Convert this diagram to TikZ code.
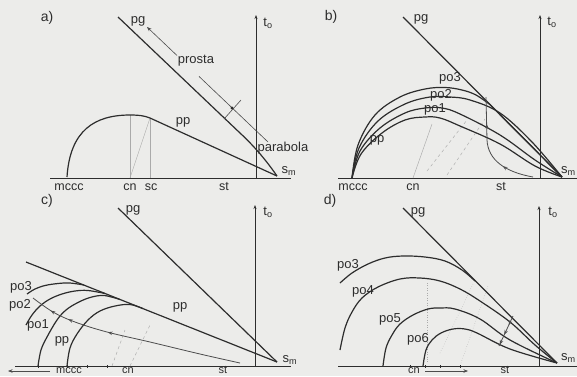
\documentclass[tikz,border=0pt]{standalone}
\usepackage{fontspec}
\setmainfont{Liberation Sans}
\usetikzlibrary{arrows.meta,decorations.markings}
\definecolor{bg}{RGB}{236,236,234}
\definecolor{ink}{RGB}{45,45,45}
\definecolor{faint}{RGB}{170,170,170}
\newcommand\mysub[1]{\textsubscript{#1}}
\begin{document}
\begin{tikzpicture}[x=1pt,y=-1pt,
  >={Stealth[length=4.5pt,width=3.5pt]},
  lbl/.style={inner sep=0.5pt,text=ink,font=\fontsize{13}{14}\selectfont},
  blbl/.style={lbl,anchor=base,font=\fontsize{12.5}{13}\selectfont},
  clbl/.style={lbl,inner sep=0pt,anchor=base,font=\fontsize{11}{12}\selectfont},
  plbl/.style={inner sep=0.5pt,text=ink,font=\fontsize{14}{15}\selectfont},
  axis/.style={draw=ink,line width=0.6pt},
  taxis/.style={draw=ink,line width=0.6pt,-{Stealth[length=4pt,width=3pt]}},
  curve/.style={draw=ink,line width=1.2pt,line join=round},
  thinl/.style={draw=ink!85,line width=0.6pt},
  faintl/.style={draw=faint,line width=0.45pt},
  tick/.style={draw=ink,line width=0.6pt},
  mk/.style={postaction={decorate,decoration={markings,mark=at position #1 with {\arrow{>}}}}}
]
\fill[bg] (0,0) rectangle (577,376);
\useasboundingbox (0,0) rectangle (577,376);

% ================= panel a =================
\coordinate (Sa) at (277,176);
\draw[axis] (50,178) -- (291,178);
\draw[taxis] (256,178) -- (256,15);
\draw[faintl] (130,115) -- (130,178);
\draw[faintl] (150,118) -- (150,178);
\draw[faintl] (130,178) -- (150,118);
\draw[curve] (118,17) -- (240,133) .. controls (254,146) and (266,160) .. (Sa);
\draw[thinl,<-] (147,27) -- (177,55.5);
\draw[thinl] (199,76.4) -- (268,142);
\draw[thinl] (224,119) -- (241,100);
\fill[ink] (232,108) circle (1.6);
\draw[curve] (67,177) .. controls (70,130) and (95,115) .. (130,115)
  .. controls (140,115) and (145,116) .. (150,118) -- (Sa);
\node[plbl] (la) at (47,18) {a)};
\node[lbl] (pga) at (138,21) {pg};
\node[lbl] (toa) at (268,23) {t\mysub{o}};
\node[lbl] (prosta) at (196,61) {prosta};
\node[lbl,anchor=west] (parab) at (257,148) {parabola};
\node[lbl] (ppa) at (183,122) {pp};
\node[lbl,anchor=west] (sma) at (281,171) {s\mysub{m}};
\node[blbl] (mccca) at (69,190) {mccc};
\node[blbl] (cna) at (130,190) {cn};
\node[blbl] (sca) at (151,190) {sc};
\node[blbl] (sta) at (224,190) {st};

% ================= panel b =================
\coordinate (Sb) at (562,177);
\draw[axis] (338,178) -- (577,178);
\draw[taxis] (540,178) -- (540,15);
\draw[faintl] (413,178) -- (432,124);
\draw[faintl,dashed] (427,171) -- (467,120);
\draw[faintl,dashed] (447,175) -- (485,119);
\draw[curve] (403,17) -- (Sb);
\draw[curve] plot[smooth,tension=0.6] coordinates {(352,178) (358,145) (375,115) (400,97) (425,89) (445,87.5) (462,90) (476,95) (490,104.6)} -- (Sb);
\draw[curve] plot[smooth,tension=0.6] coordinates {(352,178) (359,148) (378,121) (405,104) (430,97) (450,97) (470,100) (500,113) (532,142) (562,177)};
\draw[curve] plot[smooth,tension=0.6] coordinates {(352,178) (360,151) (380,128) (405,113) (425,108) (442,108) (460,114) (500,135) (535,160) (562,177)};
\draw[curve] plot[smooth,tension=0.6] coordinates {(352,178) (361,154) (382,133) (405,120) (425,117) (440,118) (460,126) (500,144) (535,166) (562,177)};
\draw[thinl,line width=0.8pt,mk=0.3,mk=0.75] (533,177) .. controls (505,172) and (488,160) .. (487,140) -- (486,97);
\node[plbl] (lb) at (331,17) {b)};
\node[lbl] (pgb) at (421,19) {pg};
\node[lbl] (tob) at (552,22) {t\mysub{o}};
\node[lbl] (po3b) at (450,78) {po3};
\node[lbl] (po2b) at (441,95) {po2};
\node[lbl] (po1b) at (435,109) {po1};
\node[lbl] (ppb) at (377,140) {pp};
\node[lbl,anchor=east] (smb) at (576.5,171) {s\mysub{m}};
\node[blbl] (mcccb) at (353,190) {mccc};
\node[blbl] (cnb) at (413,190) {cn};
\node[blbl] (stb) at (501,190) {st};

% ================= panel c =================
\coordinate (Sc) at (277,362);
\draw[axis] (15,366.5) -- (291,366.5);
\foreach \x in {38,67,87,107} \draw[tick] (\x,365) -- (\x,368);
\draw[taxis] (255,366.5) -- (255,205);
\draw[faintl,dashed] (112,366) -- (125,330);
\draw[faintl,dashed] (130,366) -- (150,325);
\draw[curve] (118,208) -- (Sc);
\draw[curve] (26,262) -- (Sc);
\draw[curve] plot[smooth,tension=0.6] coordinates {(27,294) (35,289) (45,285.5) (58,283.5) (70,283) (84,285)};
\draw[curve] plot[smooth,tension=0.6] coordinates {(26,325) (32,315) (40,306) (50,299) (62,294) (75,291) (88,290.5) (105,293.5)};
\draw[curve] plot[smooth,tension=0.6] coordinates {(38,366) (41,350) (47,337) (57,320) (66,310) (77,303) (90,297.5) (104,295.5) (120,299.5)};
\draw[curve] plot[smooth,tension=0.6] coordinates {(67,366) (70,348) (77,334) (88,320) (100,311) (115,306) (130,304.5) (143,308.6)};
\draw[thinl,line width=0.8pt,mk=0.62,mk=0.81,mk=0.9] plot[smooth,tension=0.6] coordinates {(240,363) (200,354) (150,342) (107,332) (75,322) (53,312) (33,298)};
\draw[thinl,->] (50,371) -- (8,371);
\node[plbl] (lc) at (47,201) {c)};
\node[lbl] (pgc) at (133,210) {pg};
\node[lbl] (toc) at (268,212) {t\mysub{o}};
\node[lbl] (po3c) at (21,287) {po3};
\node[lbl] (po2c) at (20,305) {po2};
\node[lbl] (po1c) at (38,325) {po1};
\node[lbl] (pparc) at (62,341) {pp};
\node[lbl] (ppc) at (180,307) {pp};
\node[lbl,anchor=west] (smc) at (282,360) {s\mysub{m}};
\node[clbl] (mcccc) at (69,373.2) {mccc};
\node[clbl] (cnc) at (128,373.2) {cn};
\node[clbl] (stc) at (223,373.2) {st};

% ================= panel d =================
\coordinate (Sd) at (557,363);
\draw[axis] (338,366.5) -- (577,366.5);
\foreach \x in {410,425,440,460} \draw[tick] (\x,365) -- (\x,368);
\draw[taxis] (539,366.5) -- (539,206);
\draw[faintl,dotted] (427,283) -- (427,363);
\draw[faintl,dotted] (440,353) -- (473,284);
\draw[faintl,dotted] (461,363) -- (488,286);
\draw[curve] (403,208) -- (Sd);
\draw[curve] plot[smooth,tension=0.6] coordinates {(340,283) (352,273) (368,264) (385,258) (403,256) (425,257) (445,261) (462,270) (475,281)};
\draw[curve] plot[smooth,tension=0.6] coordinates {(340,350) (345,328) (352,312) (362,298) (378,287) (400,279) (420,278) (440,281) (460,289) (480,301) (510,322) (535,345) (557,363)};
\draw[curve] plot[smooth,tension=0.6] coordinates {(383,366) (386,348) (392,335) (400,324) (413,315) (428,309) (440,308) (455,309) (480,319) (510,340) (557,363)};
\draw[curve] plot[smooth,tension=0.6] coordinates {(423,366) (426,350) (432,340) (441,333) (453,329) (465,329) (477,333) (510,349) (557,363)};
\draw[thinl,line width=0.8pt,mk=0.3,mk=0.62,mk=0.95] (513,316) -- (499,346);
\draw[thinl,->] (425,371) -- (468,371);
\node[plbl] (ld) at (330,201) {d)};
\node[lbl] (pgd) at (418,212) {pg};
\node[lbl] (tod) at (553,212) {t\mysub{o}};
\node[lbl] (po3d) at (348,265) {po3};
\node[lbl] (po4d) at (363,291) {po4};
\node[lbl] (po5d) at (390,319) {po5};
\node[lbl] (po6d) at (418,339) {po6};
\node[lbl,anchor=east] (smd) at (576.5,358) {s\mysub{m}};
\node[clbl] (cnd) at (414,373.2) {cn};
\node[clbl] (std) at (505,373.2) {st};
\end{tikzpicture}
\end{document}
